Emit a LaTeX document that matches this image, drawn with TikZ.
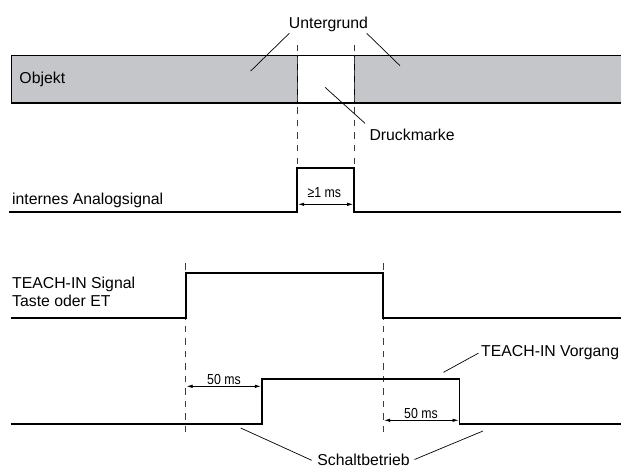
\documentclass[tikz,border=0pt]{standalone}
\usepackage{fontspec}
\setmainfont{Liberation Sans}
\newfontfamily\narrowfont[FakeStretch=0.85]{Liberation Sans}
\usetikzlibrary{arrows.meta}
\definecolor{bargray}{RGB}{197,198,202}
\definecolor{dashgray}{RGB}{60,60,60}
\begin{document}
\begin{tikzpicture}[x=1pt,y=-1pt,
  lbl/.style={font=\fontsize{15.8}{17.7}\selectfont, inner sep=0pt},
  small/.style={font=\narrowfont\fontsize{14.5}{16}\selectfont, inner sep=0pt},
  sig/.style={line width=1.8pt, line join=miter},
  guide/.style={dashgray, line width=0.9pt, dash pattern=on 6.5pt off 6pt},
  leader/.style={line width=0.7pt},
  dim/.style={line width=0.7pt, {Latex[length=6pt,width=3.5pt]}-{Latex[length=6pt,width=3.5pt]}}
]
\useasboundingbox (0,0) rectangle (621,468);
\clip (0,0) rectangle (621,468);

% object bar
\fill[bargray] (11.7,55.3) rectangle (625,103);
\fill[white] (297.3,55.3) rectangle (354,103);
\draw[line width=1.1pt] (625,55.3) -- (11.7,55.3) -- (11.7,103) -- (625,103);
\draw[line width=0.9pt] (297.3,55.3) -- (297.3,103) (354,55.3) -- (354,103);

% guide lines
\draw[guide] (297.3,45) -- (297.3,168.3);
\draw[guide] (354,45) -- (354,168.3);
\draw[guide] (185.7,263.3) -- (185.7,437);
\draw[guide] (383.3,263.3) -- (383.3,437);

% signals
\draw[sig] (9.3,212.3) -- (297.3,212.3) -- (297.3,168.3) -- (354,168.3) -- (354,212.3) -- (625,212.3);
\draw[sig] (10.7,318) -- (185.7,318) -- (185.7,272.7) -- (383.3,272.7) -- (383.3,318) -- (625,318);
\draw[sig] (10.7,424) -- (261.7,424) -- (261.7,378.7) -- (459.4,378.7) -- (459.4,424) -- (625,424);

% dimension arrows
\coordinate (d1a) at (298.2,204.3); \coordinate (d1b) at (353.1,204.3);
\coordinate (d2a) at (186.6,386.3); \coordinate (d2b) at (260.8,386.3);
\coordinate (d3a) at (384.2,420.3); \coordinate (d3b) at (458.5,420.3);
\draw[dim] (d1a) -- (d1b);
\draw[dim] (d2a) -- (d2b);
\draw[dim] (d3a) -- (d3b);
\node[small, anchor=base] (t1ms) at (324.3,197.7) {≥1 ms};
\node[small, anchor=base] (t50a) at (224,384) {50 ms};
\node[small, anchor=base] (t50b) at (421,418) {50 ms};

% labels
\node[lbl, anchor=base] (untergrund) at (328.5,28.3) {Untergrund};
\node[lbl, anchor=base west] (objekt) at (19.3,83.3) {Objekt};
\node[lbl, anchor=base west] (druck) at (369.3,140) {Druckmarke};
\node[lbl, anchor=base west] (analog) at (12,204.3) {internes Analogsignal};
\node[lbl, anchor=base west] (teach1) at (12,288.3) {TEACH-IN Signal};
\node[lbl, anchor=base west] (teach2) at (12,306) {Taste oder ET};
\node[lbl, anchor=base west] (vorgang) at (481,356) {TEACH-IN Vorgang};
\node[lbl, anchor=base] (schalt) at (363.5,465.3) {Schaltbetrieb};

% leader lines
\coordinate (u1s) at (289.3,33.3); \coordinate (u1e) at (250.7,71);
\coordinate (u2s) at (366.7,33.3); \coordinate (u2e) at (400,65.7);
\coordinate (dms) at (365,123.3); \coordinate (dme) at (325,87.3);
\coordinate (vgs) at (478.4,353.2); \coordinate (vge) at (443.5,372.3);
\coordinate (s1s) at (311.7,460.3); \coordinate (s1e) at (240.7,428);
\coordinate (s2s) at (414.5,459.5); \coordinate (s2e) at (483,431);
\draw[leader] (u1s) -- (u1e);
\draw[leader] (u2s) -- (u2e);
\draw[leader] (dms) -- (dme);
\draw[leader] (vgs) -- (vge);
\draw[leader] (s1s) -- (s1e);
\draw[leader] (s2s) -- (s2e);
\end{tikzpicture}
\end{document}
